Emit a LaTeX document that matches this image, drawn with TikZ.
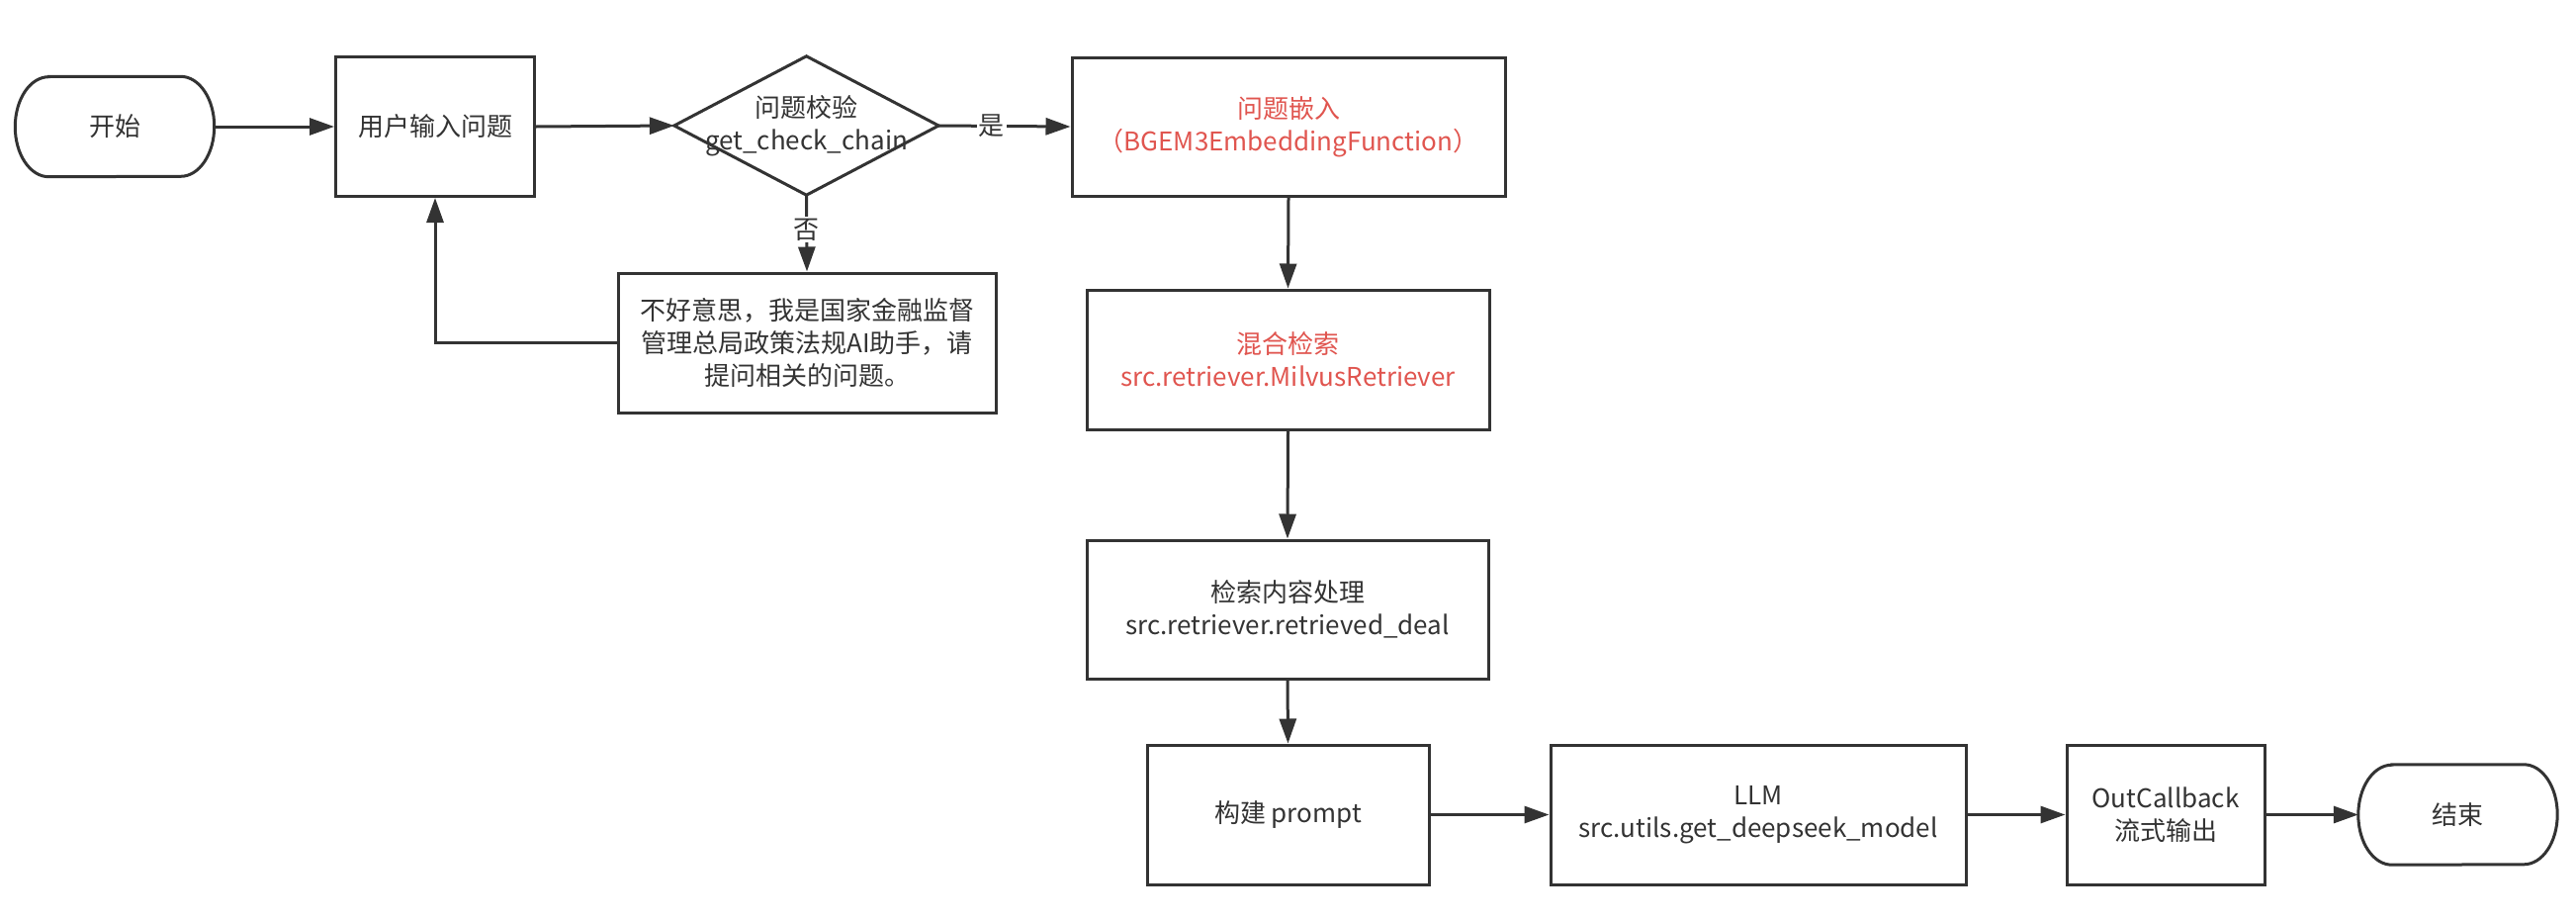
\documentclass[tikz,border=0pt]{standalone}
\usepackage{fontspec}
\setmainfont{Noto Sans CJK SC}
\usetikzlibrary{arrows.meta}
\definecolor{ink}{HTML}{333333}
\definecolor{redtxt}{HTML}{E0554F}
\newcommand\termshape[1]{%
  \draw[draw=ink, line width=3pt]
    ([xshift=34pt]#1.north west) -- ([xshift=-34pt]#1.north east)
    arc[start angle=90, end angle=-90, x radius=34pt, y radius=50.5pt]
    -- ([xshift=34pt]#1.south west)
    arc[start angle=270, end angle=90, x radius=34pt, y radius=50.5pt]
    -- cycle;}
\begin{document}
\begin{tikzpicture}[x=1pt,y=-1pt,
  every node/.style={font=\fontsize{26}{33}\selectfont, text=ink, align=center, inner sep=0pt},
  boxnode/.style={draw=ink, line width=3pt, rectangle},
  termnode/.style={rectangle, minimum width=201pt, minimum height=101pt},
  flow/.style={draw=ink, line width=3pt, -{Triangle[length=25pt,width=17pt]}},
  lbl/.style={fill=white, inner sep=2pt},
  red/.style={text=redtxt}
]
\useasboundingbox (0,0) rectangle (2605,932);

% row 1
\node[termnode] (start) at (116,128) {开始};
\termshape{start}
\node[boxnode, minimum width=201pt, minimum height=141pt] (user) at (440,128) {用户输入问题};
\node[minimum width=267pt, minimum height=140pt] (chk) at (815.5,127) {问题校验\\get\_check\_chain};
\draw[draw=ink, line width=3pt, line join=miter] (chk.north) -- (chk.east) -- (chk.south) -- (chk.west) -- cycle;
\node[boxnode, red, minimum width=438pt, minimum height=140pt] (embed) at (1303,128) {问题嵌入\\（BGEM3EmbeddingFunction）};

% refusal box
\node[boxnode, minimum width=382pt, minimum height=141pt] (sorry) at (816,346.5) {不好意思，我是国家金融监督\\管理总局政策法规AI助手，请\\提问相关的问题。};

% right column
\node[boxnode, red, minimum width=407pt, minimum height=141pt] (hybrid) at (1302.5,363.5) {混合检索\\src.retriever.MilvusRetriever};
\node[boxnode, minimum width=406pt, minimum height=140pt] (deal) at (1302,616) {检索内容处理\\src.retriever.retrieved\_deal};

% bottom row
\node[boxnode, minimum width=285pt, minimum height=141pt] (prompt) at (1302.5,823.5) {构建 prompt};
\node[boxnode, minimum width=420pt, minimum height=141pt] (llm) at (1778,823.5) {LLM\\src.utils.get\_deepseek\_model};
\node[boxnode, minimum width=200pt, minimum height=141pt] (out) at (2190,823.5) {OutCallback\\流式输出};
\node[termnode] (end) at (2485.5,823.5) {结束};
\termshape{end}

% connectors
\draw[flow] (start.east) -- (user.west);
\draw[flow] (user.east) -- (chk.west);
\draw[flow] (chk.east) -- node[lbl, pos=0.4] (yes) {是} (embed.west);
\draw[flow] (chk.south) -- node[lbl, pos=0.45] (no) {否} (sorry.north);
\draw[flow] (sorry.west) -| (user.south);
\draw[flow] (embed.south) -- (hybrid.north);
\draw[flow] (hybrid.south) -- (deal.north);
\draw[flow] (deal.south) -- (prompt.north);
\draw[flow] (prompt.east) -- (llm.west);
\draw[flow] (llm.east) -- (out.west);
\draw[flow] (out.east) -- (end.west);
\end{tikzpicture}
\end{document}
